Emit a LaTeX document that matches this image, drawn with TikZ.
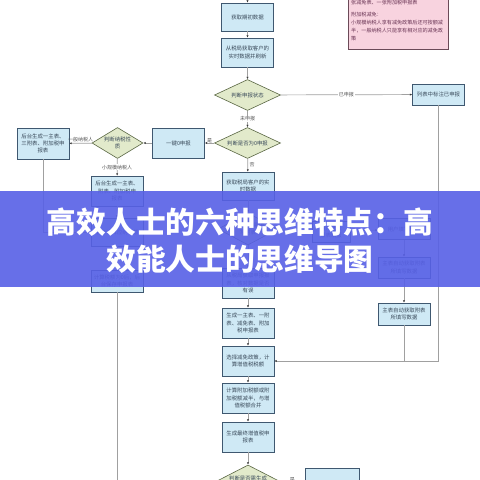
\documentclass[tikz,border=0pt]{standalone}
\usepackage{fontspec}
\setmainfont{Noto Sans CJK SC}
\usetikzlibrary{shapes.geometric,arrows.meta}
\definecolor{boxfill}{HTML}{CFE9F5}
\definecolor{boxdraw}{HTML}{3F5870}
\definecolor{diafill}{HTML}{E2EACB}
\definecolor{diadraw}{HTML}{5A6744}
\definecolor{notefill}{HTML}{F8D3DF}
\definecolor{notedraw}{HTML}{6B4A58}
\definecolor{notetext}{HTML}{6A3555}
\definecolor{linegray}{HTML}{A0A0A0}
\definecolor{arrowc}{HTML}{3A3A3A}
\definecolor{txt}{HTML}{3A4A5A}
\definecolor{labc}{HTML}{555555}
\definecolor{bannerc}{HTML}{5760E6}
\begin{document}
\begin{tikzpicture}[x=1pt,y=-1pt,
  font=\fontsize{5.4}{7.2}\selectfont,
  box/.style={draw=boxdraw, fill=boxfill, line width=0.6pt, minimum width=52pt,
    minimum height=30pt, align=center, inner sep=1pt, text=txt},
  dia/.style={diamond, draw=diadraw, fill=diafill, line width=0.6pt, inner sep=0pt,
    minimum width=66pt, minimum height=31pt},
  dtext/.style={font=\fontsize{5.4}{7.2}\selectfont, align=center, text=txt},
  conn/.style={draw=linegray, line width=0.7pt, -{Latex[length=2.4pt,width=2.2pt,color=arrowc]}},
  plain/.style={draw=linegray, line width=0.7pt},
  lab/.style={fill=white, inner sep=0.6pt, font=\fontsize{5}{6}\selectfont, text=labc}]
\useasboundingbox (0,0) rectangle (480,480);
\fill[white] (0,0) rectangle (480,480);

% pink note
\node[draw=notedraw, fill=notefill, line width=0.6pt, minimum width=100pt, minimum height=59pt,
  anchor=north west, inner sep=0pt] (note) at (348,-10) {};
\node[anchor=north west, inner sep=0pt, align=left, text=notetext,
  font=\fontsize{5.1}{8}\selectfont] (notetxt) at (351,-7.5)
  {小规模纳税人：一张主表、一张附表、一\\张减免表、一张附加税申报表\\[4pt]附加税减免：\\小规模纳税人享有减免政策后还可按额减\\半，一般纳税人只能享有相对应的减免政\\策};

% main column
\coordinate (top) at (247.5,-2);
\node[box, minimum height=28pt] (b1) at (247.5,17) {获取期初数据};
\node[box, minimum height=29pt] (b2) at (247.5,52.5) {从税局获取客户的\\实时数据并刷新};
\node[dia] (d1) at (247.5,95) {};
\node[dtext] (d1t) at (d1) {判断申报状态};
\node[box, minimum height=21pt] (r1) at (438.5,94.5) {列表中标注已申报};
\node[dia] (d2) at (247.5,143) {};
\node[dtext] (d2t) at (d2) {判断是否为0申报};
\node[box] (z1) at (178.5,143) {一键0申报};
\node[dia, minimum width=51pt] (d3) at (117.5,143) {};
\node[dtext] (d3t) at (d3) {判断纳税性\\质};
\node[box, minimum height=31pt] (l1) at (43,143.5) {后台生成一主表、\\三附表、附加税申\\报表};
\node[box] (s1) at (117,191) {后台生成一主表、\\附表、附加税申\\报表};
\node[box, minimum height=28pt] (s2) at (117,232) {后台计算应纳税额};
\node[box, minimum height=22pt] (s3) at (117,281) {计算税额为0后，后\\台保存申报表};
\coordinate (s3end) at (117,482);
\coordinate (l1turn) at (43,232);

\node[box, minimum height=28pt] (m1) at (248,186) {获取税局客户的实\\时数据};
\node[dia, minimum width=60pt, minimum height=32pt] (m2) at (248,229) {};
\node[dtext] (m2t) at (m2) {判断是否需填\\写附表};
\node[box] (m3) at (248,283) {从税局获取申报报\\表，核对数据是否\\有误};
\node[box] (m4) at (248,323) {生成一主表、一附\\表、减免表、附加\\税申报表};
\node[box] (m5) at (248,361) {选择减免政策，计\\算增值税税额};
\node[box] (m6) at (248,398) {计算附加税额或附\\加税额减半，与增\\值税额合并};
\node[box] (m7) at (248,437) {生成最终增值税申\\报表};
\node[dia, minimum height=34pt] (m8) at (248,482) {};
\node[dtext] (m8t) at (m8) {判断是否需生成\\申报表};
\node[box, minimum width=54pt, minimum height=32pt] (e1) at (332,484) {打印增值税申报表};

% right branch
\node[box, minimum width=38pt, minimum height=21pt] (ra) at (331,232) {用户选择\\报表填报};
\node[box, minimum height=21pt] (rb) at (404,229) {用户填写附表};
\node[box, minimum height=21pt] (rc) at (404,267.5) {主表自动获取附表\\所填写数据};
\node[box, minimum height=22pt] (rd) at (404,314) {主表自动获取附表\\所填写数据};
\coordinate (rturn) at (438.5,361);
\coordinate (djoin) at (404,361);

% connectors
\draw[conn] (top) -- (b1);
\draw[conn] (b1) -- (b2);
\draw[conn] (b2) -- (d1);
\draw[conn] (d1) -- node[lab] (la1) {已申报} (r1);
\draw[conn] (d1) -- node[lab] (la2) {未申报} (d2);
\draw[conn] (d2) -- node[lab, above, fill=none, yshift=-0.5pt] (la3) {是} (z1);
\draw[conn] (z1) -- (d3);
\draw[conn] (d3) -- node[lab, above, fill=none] (la4) {一般纳税人} (l1);
\draw[conn] (d3) -- node[lab] (la5) {小规模纳税人} (s1);
\draw[conn] (s1) -- (s2);
\draw[conn] (l1) -- (l1turn) -- (s2);
\draw[conn] (s2) -- (s3);
\draw[plain] (s3) -- (s3end);
\draw[conn] (d2) -- node[lab, right, fill=none, xshift=1pt] (la6) {否} (m1);
\draw[conn] (m1) -- (m2);
\draw[conn] (m2) -- (m3);
\draw[conn] (m2) -- (ra);
\draw[conn] (ra) -- (rb);
\draw[conn] (rb) -- (rc);
\draw[conn] (rc) -- (rd);
\draw[plain] (rd) -- (djoin);
\draw[conn] (m3) -- (m4);
\draw[conn] (m4) -- (m5);
\draw[conn] (r1) -- (rturn) -- (m5);
\draw[conn] (m5) -- (m6);
\draw[conn] (m6) -- (m7);
\draw[conn] (m7) -- (m8);
\draw[conn] (m8) -- node[lab, above, fill=none] (la7) {是} (e1);

% banner
\fill[bannerc, opacity=0.9] (0,191) rectangle (480,287);
\node[text=white, align=center, inner sep=0pt,
  font=\fontsize{29.7}{37}\selectfont\bfseries] (title) at (240,240.5)
  {高效人士的六种思维特点：高\\效能人士的思维导图};
\end{tikzpicture}
\end{document}
